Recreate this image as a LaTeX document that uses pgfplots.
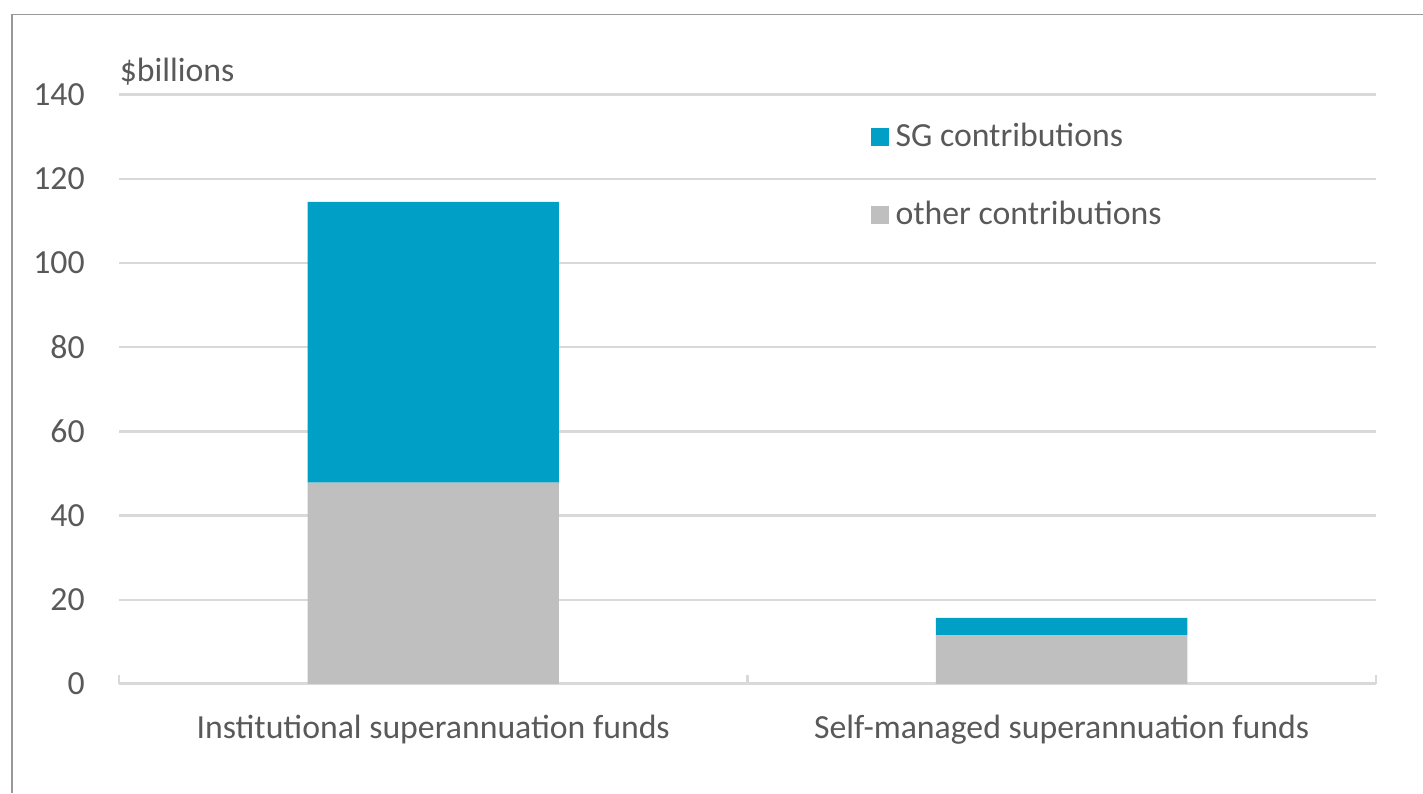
\documentclass[border=0pt]{standalone}
\usepackage{pgfplots}
\pgfplotsset{compat=1.18}
\usepackage{fontspec}
\setmainfont{Carlito}
\definecolor{sgblue}{HTML}{00A0C6}
\definecolor{othergray}{HTML}{BFBFBF}
\definecolor{txtgray}{HTML}{595959}
\definecolor{gridgray}{HTML}{D9D9D9}
\begin{document}
\begin{tikzpicture}[x=0.01cm,y=0.01cm]
\useasboundingbox (0,0) rectangle (1423,793);
% outer frame (top and left edges)
\draw[line width=0.15mm, color=gray!80] (12,0) -- (12,778.5) -- (1423,778.5);
\begin{axis}[
    at={(1.19cm,1.09cm)}, anchor=south west,
    scale only axis,
    width=12.56cm, height=5.89cm,
    ybar stacked,
    bar width=0.4,
    xmin=-0.5, xmax=1.5,
    ymin=0, ymax=140,
    ytick={0,20,...,140},
    xtick={-0.5,0.5,1.5},
    xticklabels={},
    major x tick style={draw=gridgray, line width=0.25mm},
    major y tick style={draw=none},
    xtick align=inside,
    major tick length=0.9mm,
    extra x ticks={0,1},
    extra x tick labels={Institutional superannuation funds, Self-managed superannuation funds},
    extra x tick style={major tick length=0pt, grid=none},
    ymajorgrids, grid style={draw=gridgray, line width=0.25mm},
    axis x line*=bottom,
    axis y line*=left,
    y axis line style={draw=none},
    x axis line style={draw=gridgray, line width=0.3mm, -},
    tick label style={font=\fontsize{9.6}{11.5}\selectfont, text=txtgray},
    /pgf/number format/assume math mode=true,
    yticklabel style={xshift=-2.2mm},
    xticklabel style={yshift=-1.9mm},
    legend style={at={(0.589,0.977)}, anchor=north west, draw=none, fill=none,
        font=\fontsize{9.6}{11.5}\selectfont, text=txtgray, row sep=3.5mm,
        /tikz/every even column/.append style={column sep=0mm}},
    legend cell align=left,
    legend reversed,
    legend image code/.code={\fill[#1] (0cm,-0.09cm) rectangle (0.18cm,0.09cm);},
    clip=false,
]
\addplot[fill=othergray, draw=none] coordinates {(0,47.8) (1,11.6)};
\addlegendentry{other contributions}
\addplot[fill=sgblue, draw=none] coordinates {(0,66.7) (1,4.1)};
\addlegendentry{SG contributions}
\node[anchor=west, inner sep=0pt, font=\fontsize{9.6}{11.5}\selectfont, text=txtgray] at (axis cs:-0.5,145.5) {\$billions};
\end{axis}
\end{tikzpicture}
\end{document}
